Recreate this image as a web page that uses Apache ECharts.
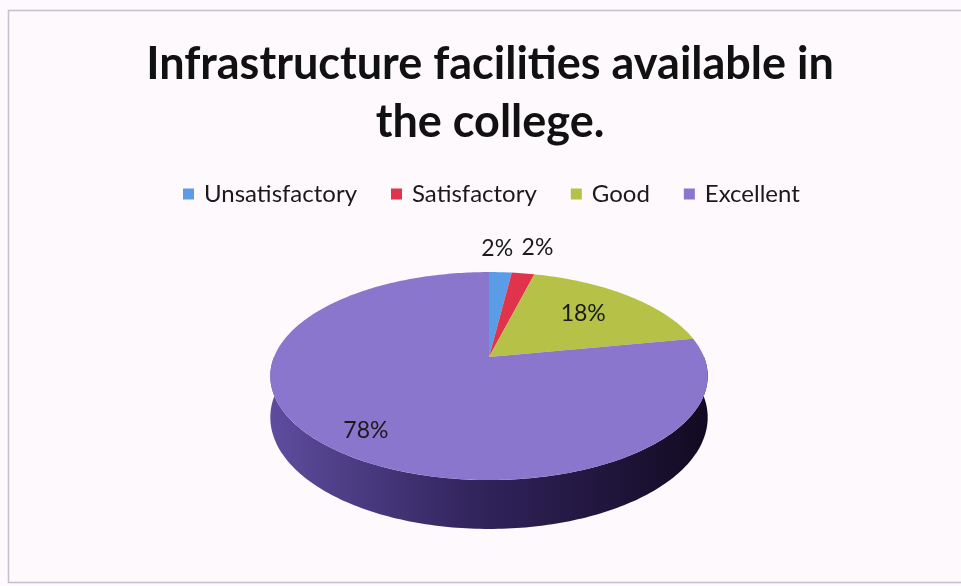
<!DOCTYPE html>
<html>
<head>
<meta charset="utf-8">
<script src="https://cdn.jsdelivr.net/npm/echarts@6/dist/echarts.min.js"></script>
<style>
html, body { margin: 0; padding: 0; background: #fdf9fc; }
#chart { width: 961px; height: 586px; }
</style>
</head>
<body>
<div id="chart"></div>
<script>
var categories = ['Unsatisfactory', 'Satisfactory', 'Good', 'Excellent'];
var values = [2, 2, 18, 78];
var colors = ['#5b9ce6', '#e0344c', '#b5c247', '#8a76cc'];
var labelRadius = [1.3, 1.3, 0.65, 0.82];
var labelNudge = [[-6, -3], [6, -5], [0, -2], [4, 2]];

var total = values.reduce(function (a, b) { return a + b; }, 0);
var starts = [];
var acc = 0;
values.forEach(function (v) { starts.push(acc / total * 360); acc += v; });

// excel style 3d pie: a tilted disc seen in perspective
var cx = 489, cy = 357, rx = 215, ry = 100.5, persp = 0.183, depth = 40;
function proj(phi, r, drop) {
    var a = phi * Math.PI / 180;
    var u = r * Math.sin(a), v = r * Math.cos(a);
    var d = 1 + persp * v;
    return [cx + rx * u / d, cy - ry * v / d + (drop || 0) / d];
}

var sideFill = new echarts.graphic.LinearGradient(0, 0, 1, 0, [
    { offset: 0, color: '#5e4d9e' },
    { offset: 0.45, color: '#33255f' },
    { offset: 1, color: '#120a22' }
]);

function renderItem(params, api) {
    var i = api.value(0);
    var a0 = starts[i], a1 = a0 + api.value(1) / total * 360;
    var children = [];
    var a;
    var s0 = Math.max(a0, 90), s1 = Math.min(a1, 270);
    if (s1 > s0) {
        var side = [];
        for (a = s0; a < s1; a += 1) side.push(proj(a, 1));
        side.push(proj(s1, 1));
        for (a = s1; a > s0; a -= 1) side.push(proj(a, 1, depth));
        side.push(proj(s0, 1, depth));
        children.push({ type: 'polygon', z2: 1, shape: { points: side }, style: { fill: sideFill } });
    }
    var top = [proj(0, 0)];
    for (a = a0; a < a1; a += 1) top.push(proj(a, 1));
    top.push(proj(a1, 1));
    children.push({ type: 'polygon', z2: 5, shape: { points: top }, style: { fill: api.visual('color') } });
    var lp = proj((a0 + a1) / 2, labelRadius[i]);
    children.push({
        type: 'text', z2: 10, x: lp[0] + labelNudge[i][0], y: lp[1] + labelNudge[i][1],
        style: {
            text: Math.round(api.value(1) / total * 100) + '%',
            align: 'center', verticalAlign: 'middle',
            fill: '#1a1a1a', fontSize: 23, fontFamily: 'Lato'
        }
    });
    return { type: 'group', children: children };
}

var series = categories.map(function (name, i) {
    return {
        type: 'custom',
        name: name,
        coordinateSystem: 'none',
        renderItem: renderItem,
        itemStyle: { color: colors[i] },
        data: [[i, values[i]]]
    };
});

var myChart = echarts.init(document.getElementById('chart'));
var option = {
    backgroundColor: '#fdf9fc',
    animation: false,
    title: {
        text: 'Infrastructure facilities available in\nthe college.',
        left: 485,
        textAlign: 'center',
        top: 30,
        textStyle: { fontSize: 45, fontWeight: 'bold', fontFamily: 'Lato', color: '#111', lineHeight: 58 }
    },
    legend: {
        data: categories,
        top: 177,
        left: 178,
        icon: 'rect',
        itemWidth: 11,
        itemHeight: 11,
        itemGap: 34,
        textStyle: { fontSize: 24, fontFamily: 'Lato', color: '#1a1a1a', padding: [0, 0, 0, 5] }
    },
    graphic: [{
        type: 'rect',
        shape: { x: 8.5, y: 10.5, width: 970, height: 572 },
        style: { fill: 'none', stroke: '#c4c0cc', lineWidth: 1.5 }
    }],
    series: series
};
myChart.setOption(option);
</script>
</body>
</html>
